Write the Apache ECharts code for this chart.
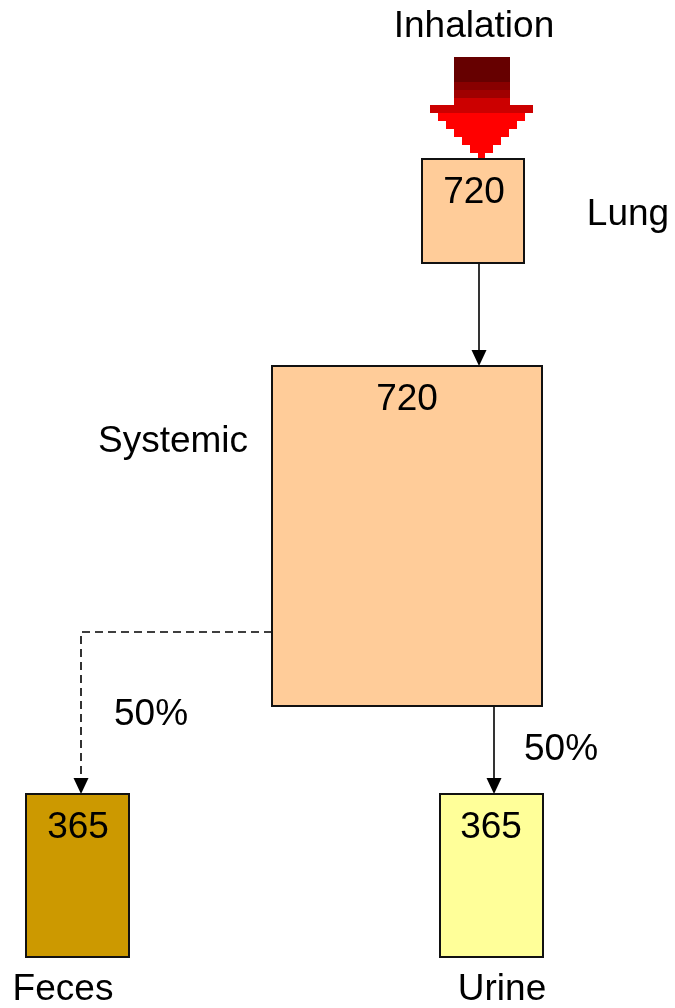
<!DOCTYPE html>
<html>
<head>
<meta charset="utf-8">
<script src="https://cdn.jsdelivr.net/npm/echarts@6/dist/echarts.min.js"></script>
<style>
  html, body { margin: 0; padding: 0; background: #fff; }
  #main { width: 675px; height: 1008px; }
</style>
</head>
<body>
<div id="main"></div>
<script>
// data
var compartments = ['Lung', 'Systemic', 'Feces', 'Urine'];
var amounts = [720, 720, 365, 365];
var intakeLabel = 'Inhalation';
// flows: from, to, fraction label
var flowFrom = [0, 1, 1];
var flowTo = [1, 2, 3];
var flowLabels = ['', '50%', '50%'];

// layout (pixel space of the 675x1008 page)
var boxRect = [[422, 159, 524, 263], [272, 366, 542, 706], [26, 794, 129, 957], [440, 794, 543, 957]];
var boxFill = ['#ffcc99', '#ffcc99', '#cc9900', '#ffff99'];
var valuePos = [[474, 193], [407, 400], [78, 828], [491, 828]];
var namePos = [[628, 215], [173, 442], [63, 990], [502, 990]];
// flow paths (polylines) and label spots
var flowPath = [
  [[479, 263], [479, 366]],
  [[272, 632], [81, 632], [81, 794]],
  [[494, 706], [494, 794]]
];
var flowDashed = [false, true, false];
var flowLabelPos = [[0, 0], [151, 715], [561, 750]];
// inhalation arrow: bands [y0, y1, x0, x1, colour]
var intakeBands = [
  [57, 82, 454, 510, '#660000'],
  [82, 90, 454, 510, '#880000'],
  [90, 98, 454, 510, '#a00000'],
  [98, 105, 454, 510, '#cc0000'],
  [105, 113, 430, 533, '#cc0000'],
  [113, 121, 438, 525, '#ff0000'],
  [121, 129, 446, 517, '#ff0000'],
  [129, 137, 454, 509, '#ff0000'],
  [137, 145, 462, 501, '#ff0000'],
  [145, 153, 470, 493, '#ff0000'],
  [153, 160, 478, 485, '#ff0000']
];
var intakeLabelPos = [474, 27];

var FONT = '37px "Liberation Sans", Arial, sans-serif';

var myChart = echarts.init(document.getElementById('main'));

function pt(api, p) { return api.coord(p); }

var option = {
  animation: false,
  grid: { left: 0, right: 0, top: 0, bottom: 0 },
  xAxis: { type: 'value', min: 0, max: 675, show: false },
  yAxis: { type: 'value', min: 0, max: 1008, inverse: true, show: false },
  series: [
    {
      // inhalation arrow
      type: 'custom',
      clip: false,
      data: [[0, 0]],
      renderItem: function (params, api) {
        var kids = intakeBands.map(function (b) {
          var a = pt(api, [b[2], b[0]]), c = pt(api, [b[3], b[1]]);
          return { type: 'rect', shape: { x: a[0], y: a[1], width: c[0] - a[0], height: c[1] - a[1] }, style: { fill: b[4] } };
        });
        var lp = pt(api, intakeLabelPos);
        kids.push({ type: 'text', style: { x: lp[0], y: lp[1], text: intakeLabel, font: FONT, fill: '#000', align: 'center', verticalAlign: 'middle' } });
        return { type: 'group', children: kids };
      }
    },
    {
      // flows
      type: 'custom',
      clip: false,
      data: flowFrom.map(function (f, i) { return [f, flowTo[i]]; }),
      renderItem: function (params, api) {
        var i = params.dataIndex;
        var pts = flowPath[i].map(function (p) { return pt(api, p); });
        var end = pts[pts.length - 1];
        var head = 16, half = 7.5;
        var line = pts.slice();
        line[line.length - 1] = [end[0], end[1] - head + 1];
        var kids = [
          { type: 'polyline', shape: { points: line }, style: { stroke: '#000', lineWidth: 1.6, fill: null, lineDash: flowDashed[i] ? [8, 5] : null } },
          { type: 'polygon', shape: { points: [[end[0] - half, end[1] - head], [end[0] + half, end[1] - head], [end[0], end[1]]] }, style: { fill: '#000' } }
        ];
        if (flowLabels[i]) {
          var lp = pt(api, flowLabelPos[i]);
          kids.push({ type: 'text', style: { x: lp[0], y: lp[1], text: flowLabels[i], font: FONT, fill: '#000', align: 'center', verticalAlign: 'middle' } });
        }
        return { type: 'group', children: kids };
      }
    },
    {
      // compartments
      type: 'custom',
      clip: false,
      data: amounts.map(function (v, i) { return [i, v]; }),
      renderItem: function (params, api) {
        var i = params.dataIndex;
        var r = boxRect[i];
        var a = pt(api, [r[0], r[1]]), c = pt(api, [r[2], r[3]]);
        var vp = pt(api, valuePos[i]), np = pt(api, namePos[i]);
        return {
          type: 'group',
          children: [
            { type: 'rect', shape: { x: a[0], y: a[1], width: c[0] - a[0], height: c[1] - a[1] }, style: { fill: boxFill[i], stroke: '#111', lineWidth: 2 } },
            { type: 'text', style: { x: vp[0], y: vp[1], text: String(amounts[i]), font: FONT, fill: '#000', align: 'center', verticalAlign: 'middle' } },
            { type: 'text', style: { x: np[0], y: np[1], text: compartments[i], font: FONT, fill: '#000', align: 'center', verticalAlign: 'middle' } }
          ]
        };
      }
    }
  ]
};
myChart.setOption(option, true);
</script>
</body>
</html>
